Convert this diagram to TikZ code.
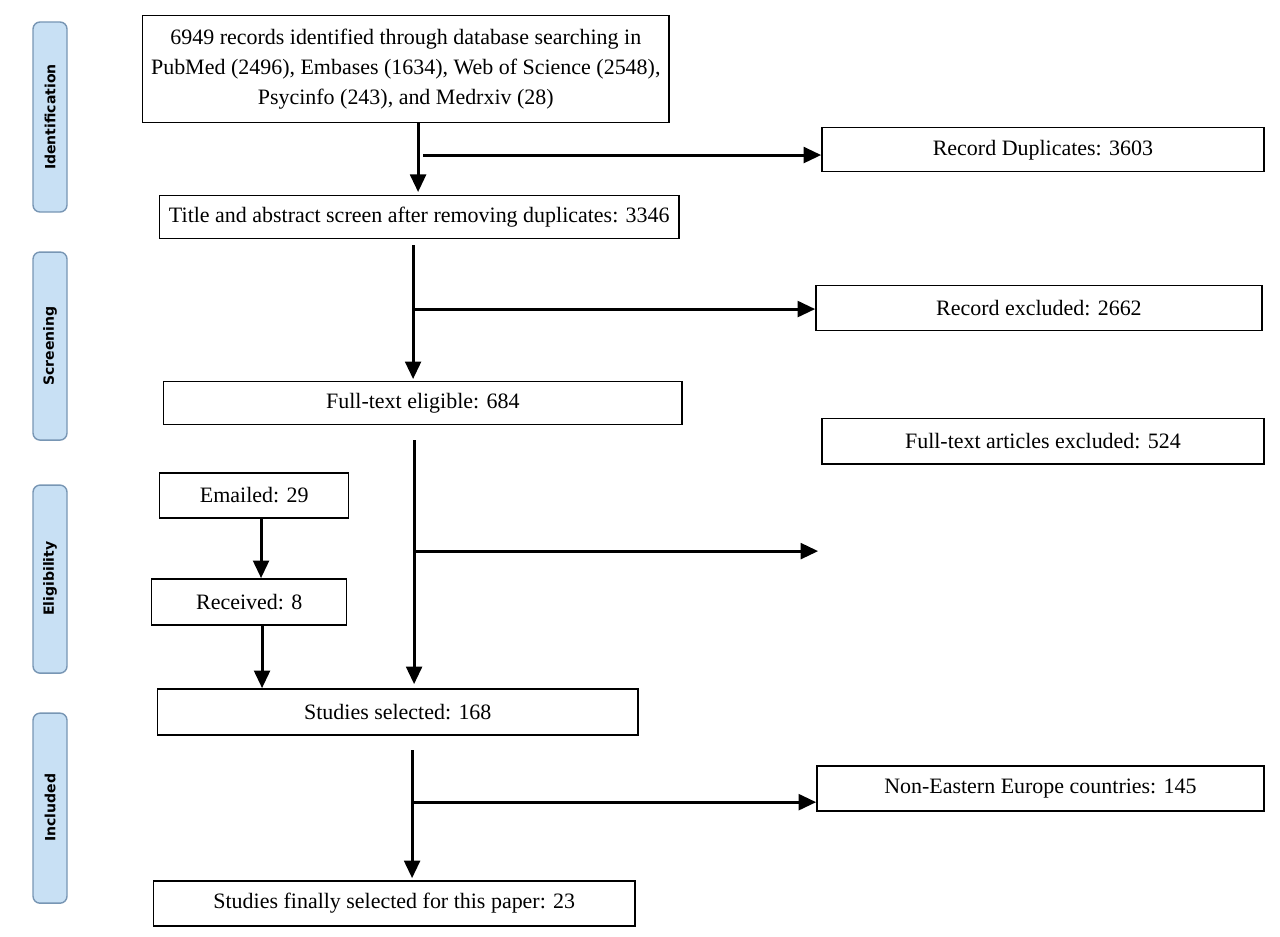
\documentclass[tikz,border=0pt]{standalone}
\usepackage{fontspec}
\setmainfont{Liberation Serif}
\newfontfamily\sidefont{DejaVu Sans}
\usetikzlibrary{arrows.meta}
\definecolor{sideblue}{RGB}{200,224,244}
\definecolor{sideedge}{RGB}{120,150,180}
\tikzset{
  box/.style={draw,line width=0.8pt,anchor=north west,inner sep=0pt,align=center,font=\fontsize{12.5}{17}\selectfont},
  side/.style={draw=sideedge,fill=sideblue,rounded corners=4pt,line width=0.8pt},
  sidetxt/.style={rotate=90,font=\sidefont\bfseries\fontsize{8}{9}\selectfont},
  arr/.style={line width=1.7pt,-{Triangle[length=10pt,width=9pt]}}
}
\newcommand{\bx}[6]{\node[box,minimum width=#4*0.02cm-#2*0.02cm,minimum height=#5*0.02cm-#3*0.02cm] (#1) at (#2*0.02,-#3*0.02) {#6};}
\begin{document}
\begin{tikzpicture}
\useasboundingbox (0,0) rectangle (25.6,-18.74);
% side labels
\foreach \a/\b/\t [count=\i] in {22/212/Identification,252/440/Screening,485/673/Eligibility,713/903/Included}{
  \draw[side] (33*0.02,-\a*0.02) rectangle (67*0.02,-\b*0.02);
  \node[sidetxt] (s\i) at (50*0.02,-\a*0.01-\b*0.01) {\t};
}
\bx{top}{142}{15}{668}{122}{6949 records identified through database searching in\\PubMed (2496), Embases (1634), Web of Science (2548),\\Psycinfo (243), and Medrxiv (28)}
\bx{dup}{821}{127}{1263}{171}{Record Duplicates: 3603}
\bx{title}{159}{195}{678}{238}{Title and abstract screen after removing duplicates: 3346}
\bx{exc}{815}{285}{1261}{330}{Record excluded: 2662}
\bx{full}{163}{381}{681}{424}{Full-text eligible: 684}
\bx{fexc}{821}{418}{1263}{463}{Full-text articles excluded: 524}
\bx{email}{159}{472}{348}{517}{Emailed: 29}
\bx{recv}{151}{578}{346}{624}{Received: 8}
\bx{sel}{157}{688}{637}{734}{Studies selected: 168}
\bx{non}{816}{765}{1263}{810}{Non-Eastern Europe countries: 145}
\bx{fin}{153}{880}{634}{925}{Studies finally selected for this paper: 23}
% arrows
\coordinate (a1) at (418*0.02,-122*0.02);
\draw[arr] (a1) -- (418*0.02,-192*0.02);
\draw[arr] (423*0.02,-155*0.02) -- (dup.west|-0,-155*0.02);
\draw[arr] (413*0.02,-245*0.02) -- (413*0.02,-379*0.02);
\draw[arr] (413*0.02,-309*0.02) -- (exc.west|-0,-309*0.02);
\draw[arr] (414*0.02,-440*0.02) -- (414*0.02,-684*0.02);
\coordinate (free) at (818*0.02,-551*0.02);
\draw[arr] (414*0.02,-551*0.02) -- (free);
\draw[arr] (412*0.02,-750*0.02) -- (412*0.02,-878*0.02);
\draw[arr] (412*0.02,-802*0.02) -- (non.west|-0,-802*0.02);
\draw[arr] (email.south-|261*0.02,0) -- (recv.north-|261*0.02,0);
\draw[arr] (recv.south-|262*0.02,0) -- (sel.north-|262*0.02,0);
\end{tikzpicture}
\end{document}
